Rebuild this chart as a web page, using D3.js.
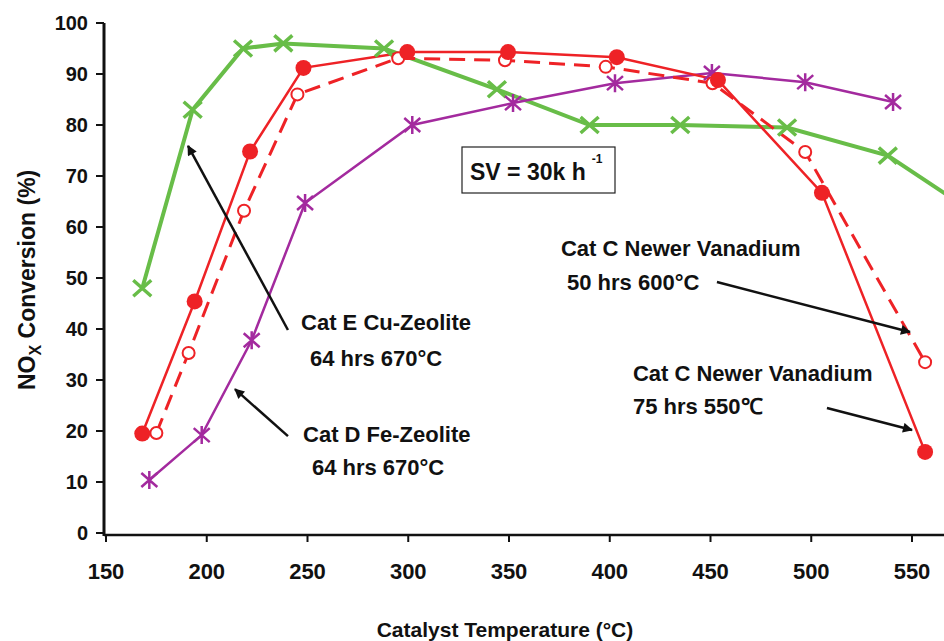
<!DOCTYPE html>
<html>
<head>
<meta charset="utf-8">
<script src="https://cdn.jsdelivr.net/npm/d3@7"></script>
<style>
  body { margin: 0; background: #fff; }
  svg { display: block; font-family: "Liberation Sans", Arial, sans-serif; }
  .lbl { font-weight: bold; fill: #111; }
</style>
</head>
<body>
<div id="chart_here"></div>
<script>
// x / y ticks
var tempTicks = [150, 200, 250, 300, 350, 400, 450, 500, 550]
var noxTicks  = [0, 10, 20, 30, 40, 50, 60, 70, 80, 90, 100]

// Cat E Cu-Zeolite 64 hrs 670C (green, x markers)
var cuZeoT   = [168, 193, 218, 238, 288, 344, 390, 435, 488, 538, 580]
var cuZeoNOx = [48, 83, 95, 96, 95, 87, 80, 80, 79.5, 74, 63]

// Cat D Fe-Zeolite 64 hrs 670C (purple, asterisks)
var feZeoT   = [171.5, 197.5, 222.3, 248.8, 302, 352, 402.6, 450.7, 497, 540.6]
var feZeoNOx = [10.4, 19.2, 37.8, 64.7, 80, 84.3, 88.2, 90.2, 88.4, 84.5]

// Cat C Newer Vanadium 50 hrs 600C (red dashed, open circles)
var van50T   = [175, 191, 218.5, 245, 295, 348, 398, 451, 497, 556.5]
var van50NOx = [19.6, 35.3, 63.2, 86, 93.1, 92.7, 91.4, 88.2, 74.7, 33.5]

// Cat C Newer Vanadium 75 hrs 550C (red solid, filled circles)
var van75T   = [168, 194, 221.5, 248, 299.5, 349.5, 403.5, 453.7, 505.3, 556.5]
var van75NOx = [19.5, 45.4, 74.8, 91.2, 94.3, 94.3, 93.3, 88.8, 66.7, 15.9]

var zip = function(a, b) { return a.map(function(d, i) { return {t: d, v: b[i]} }) }

var W = 944, H = 641
var green = "#68bd48", red = "#ee2226", purple = "#a32a9e"

var svg = d3.select("#chart_here")
  .append("svg")
  .attr("width", W)
  .attr("height", H)

var x = d3.scaleLinear().domain([150, 550]).range([106, 912])
var y = d3.scaleLinear().domain([0, 100]).range([533, 23])

// arrow head
svg.append("defs").append("marker")
    .attr("id", "arr")
    .attr("viewBox", "0 0 10 10")
    .attr("refX", 9).attr("refY", 5)
    .attr("markerWidth", 5).attr("markerHeight", 4)
    .attr("orient", "auto")
  .append("path")
    .attr("d", "M0,0L10,5L0,10z")
    .attr("fill", "#111")

// axes
svg.append("line")
    .attr("x1", 104).attr("x2", W)
    .attr("y1", y(0) + 2).attr("y2", y(0) + 2)
    .attr("stroke", "#111").attr("stroke-width", 2.5)
svg.append("line")
    .attr("x1", 104).attr("x2", 104)
    .attr("y1", y(100)).attr("y2", y(0) + 3)
    .attr("stroke", "#111").attr("stroke-width", 3)

svg.selectAll("xtick")
  .data(tempTicks).enter()
  .append("line")
    .attr("x1", function(d) { return x(d) }).attr("x2", function(d) { return x(d) })
    .attr("y1", y(0) + 2).attr("y2", y(0) + 9)
    .attr("stroke", "#111").attr("stroke-width", 2)
svg.selectAll("xlbl")
  .data(tempTicks).enter()
  .append("text")
    .attr("class", "lbl")
    .attr("x", function(d) { return x(d) })
    .attr("y", 579)
    .attr("text-anchor", "middle")
    .style("font-size", "22px")
    .text(function(d) { return d })

svg.selectAll("ytick")
  .data(noxTicks).enter()
  .append("line")
    .attr("x1", 96).attr("x2", 104)
    .attr("y1", function(d) { return y(d) }).attr("y2", function(d) { return y(d) })
    .attr("stroke", "#111").attr("stroke-width", 2)
svg.selectAll("ylbl")
  .data(noxTicks).enter()
  .append("text")
    .attr("class", "lbl")
    .attr("x", 88)
    .attr("y", function(d) { return y(d) })
    .attr("dy", "0.36em")
    .attr("text-anchor", "end")
    .style("font-size", "20px")
    .text(function(d) { return d })

// axis titles
svg.append("text")
    .attr("class", "lbl")
    .attr("x", 505).attr("y", 637)
    .attr("text-anchor", "middle")
    .style("font-size", "21px")
    .text("Catalyst Temperature (°C)")

var yt = svg.append("text")
    .attr("class", "lbl")
    .attr("transform", "translate(35,390)rotate(-90)")
    .style("font-size", "23px")
yt.append("tspan").text("NO")
yt.append("tspan").attr("dy", 6).style("font-size", "16px").text("X")
yt.append("tspan").attr("dy", -6).text(" Conversion (%)")

// lines
var line = d3.line()
  .x(function(d) { return x(d.t) })
  .y(function(d) { return y(d.v) })

svg.append("path")
    .datum(zip(cuZeoT, cuZeoNOx))
    .attr("d", line)
    .attr("fill", "none").attr("stroke", green).attr("stroke-width", 4)

svg.append("path")
    .datum(zip(feZeoT, feZeoNOx))
    .attr("d", line)
    .attr("fill", "none").attr("stroke", purple).attr("stroke-width", 2.5)

svg.append("path")
    .datum(zip(van50T, van50NOx))
    .attr("d", line)
    .attr("fill", "none").attr("stroke", red).attr("stroke-width", 3)
    .attr("stroke-dasharray", "16,9")

svg.append("path")
    .datum(zip(van75T, van75NOx))
    .attr("d", line)
    .attr("fill", "none").attr("stroke", red).attr("stroke-width", 2.5)

// markers
svg.selectAll("mark_cu")
  .data(zip(cuZeoT, cuZeoNOx).slice(0, -1)).enter()
  .append("path")
    .attr("transform", function(d) { return "translate(" + x(d.t) + "," + y(d.v) + ")" })
    .attr("d", "M-9,-8L9,8M-9,8L9,-8")
    .attr("stroke", green).attr("stroke-width", 3.5)

svg.selectAll("mark_fe")
  .data(zip(feZeoT, feZeoNOx)).enter()
  .append("path")
    .attr("transform", function(d) { return "translate(" + x(d.t) + "," + y(d.v) + ")" })
    .attr("d", "M-8,-7L8,7M-8,7L8,-7M0,-9L0,9")
    .attr("stroke", purple).attr("stroke-width", 2.5)

svg.selectAll("mark_v50")
  .data(zip(van50T, van50NOx)).enter()
  .append("circle")
    .attr("cx", function(d) { return x(d.t) })
    .attr("cy", function(d) { return y(d.v) })
    .attr("r", 6)
    .attr("fill", "#fff").attr("stroke", red).attr("stroke-width", 2)

svg.selectAll("mark_v75")
  .data(zip(van75T, van75NOx)).enter()
  .append("circle")
    .attr("cx", function(d) { return x(d.t) })
    .attr("cy", function(d) { return y(d.v) })
    .attr("r", 8)
    .attr("fill", red)

// SV box
svg.append("rect")
    .attr("x", 462).attr("y", 147)
    .attr("width", 153).attr("height", 46)
    .attr("fill", "#fff").attr("stroke", "#222").attr("stroke-width", 1.2)
var sv = svg.append("text")
    .attr("class", "lbl")
    .attr("x", 470).attr("y", 180)
    .style("font-size", "23px")
sv.append("tspan").text("SV = 30k h")
sv.append("tspan").attr("dx", 6).attr("dy", -17).style("font-size", "12px").text("-1")

// annotations
var note = function(t, v, s) {
  svg.append("text")
    .attr("class", "lbl")
    .attr("x", x(t)).attr("y", y(v))
    .style("font-size", "22px")
    .text(s)
}
note(246.8, 39.8, "Cat E Cu-Zeolite")
note(251.2, 32.7, "64 hrs 670°C")
note(247.8, 17.8, "Cat D Fe-Zeolite")
note(252.2, 11.4, "64 hrs 670°C")
note(375.8, 54.3, "Cat C Newer Vanadium")
note(378.8, 47.6, "50 hrs 600°C")
note(411.5, 29.8, "Cat C Newer Vanadium")
note(411.5, 23.3, "75 hrs 550℃")

var arrow = function(t1, v1, t2, v2) {
  svg.append("line")
    .attr("x1", x(t1)).attr("y1", y(v1))
    .attr("x2", x(t2)).attr("y2", y(v2))
    .attr("stroke", "#111").attr("stroke-width", 2.5)
    .attr("marker-end", "url(#arr)")
}
arrow(240.3, 39.8, 190.7, 75.9)
arrow(240.3, 19, 214, 28.2)
arrow(453.2, 49.2, 549, 39.4)
arrow(507.8, 24.5, 550, 20.2)
</script>
</body>
</html>
